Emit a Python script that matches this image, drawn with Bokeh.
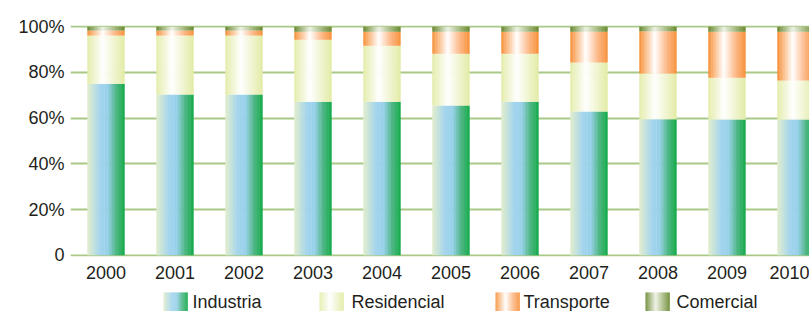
from bokeh.plotting import figure
from bokeh.models import ColumnDataSource, FixedTicker, Range1d
from bokeh.layouts import column
from bokeh.embed import file_html
from bokeh.resources import INLINE
from bokeh.core.properties import value

# ---------------- data ----------------
years = [2000, 2001, 2002, 2003, 2004, 2005, 2006, 2007, 2008, 2009, 2010]
series_names = ["Industria", "Residencial", "Transporte", "Comercial"]
industria = [75.0, 70.3, 70.3, 67.2, 67.2, 65.5, 67.2, 62.9, 59.5, 59.4, 59.4]
residencial = [21.1, 25.8, 25.8, 27.1, 24.5, 22.7, 21.0, 21.4, 20.0, 18.3, 17.0]
transporte = [2.2, 2.2, 2.2, 3.5, 6.1, 9.6, 9.6, 13.5, 18.5, 20.1, 21.4]
comercial = [1.7, 1.7, 1.7, 2.2, 2.2, 2.2, 2.2, 2.2, 2.0, 2.2, 2.2]
y_ticks = [0, 20, 40, 60, 80, 100]
y_tick_labels = ["0", "20%", "40%", "60%", "80%", "100%"]

# ---------------- style ----------------
FONT = "Liberation Sans"
FONT_SIZE = "18px"
TEXT_COLOR = "#231f20"
GRID_COLOR = "#a9c986"
BAR_W = 0.536
N_STRIPS = 24
GRADS = {
    "Industria": [(0.0, "#e3edcc"), (0.35, "#a2d4ee"), (0.55, "#98d1ea"), (0.78, "#4fb785"), (1.0, "#15ab4a")],
    "Residencial": [(0.0, "#e4ecaa"), (0.42, "#ffffff"), (1.0, "#e3eba6")],
    "Transporte": [(0.0, "#f7903a"), (0.42, "#ffffff"), (0.7, "#fdc095"), (1.0, "#f7923c")],
    "Comercial": [(0.0, "#68872f"), (0.42, "#eef2e4"), (1.0, "#6b8a30")],
}


def hex2rgb(h):
    h = h.lstrip("#")
    return [int(h[i:i + 2], 16) for i in (0, 2, 4)]


def grad_color(stops, t):
    for (t0, c0), (t1, c1) in zip(stops[:-1], stops[1:]):
        if t0 <= t <= t1:
            f = (t - t0) / (t1 - t0) if t1 > t0 else 0
            a, b = hex2rgb(c0), hex2rgb(c1)
            return "#%02x%02x%02x" % tuple(int(round(a[k] + (b[k] - a[k]) * f)) for k in range(3))
    return stops[-1][1]


# ---------------- main chart ----------------
W = 809
LEFT = 70
MAIN_H = 288
LEG_H = 23
p = figure(width=W, height=MAIN_H, x_range=Range1d(1999.4855, 2010.196), y_range=Range1d(-0.5, 100.5),
           output_backend="svg", toolbar_location=None,
           min_border_left=LEFT, min_border_right=0, min_border_top=25, min_border_bottom=32)
p.outline_line_color = None
p.background_fill_color = "white"
p.border_fill_color = "white"

values = {"Industria": industria, "Residencial": residencial, "Transporte": transporte, "Comercial": comercial}
bottoms = [0.0] * len(years)
for name in series_names:
    vals = values[name]
    tops = [b + v for b, v in zip(bottoms, vals)]
    xs, ts, bs, cs = [], [], [], []
    for j in range(N_STRIPS):
        t = (j + 0.5) / N_STRIPS
        off = -BAR_W / 2 + t * BAR_W
        col = grad_color(GRADS[name], t)
        for i, yr in enumerate(years):
            xs.append(yr + off)
            ts.append(tops[i])
            bs.append(bottoms[i])
            cs.append(col)
    src = ColumnDataSource(dict(x=xs, top=ts, bottom=bs, color=cs))
    p.vbar(x="x", top="top", bottom="bottom", width=BAR_W / N_STRIPS * 1.3, fill_color="color",
           line_color=None, source=src)
    bottoms = tops

p.xgrid.grid_line_color = None
p.ygrid.ticker = FixedTicker(ticks=y_ticks)
p.ygrid.grid_line_color = GRID_COLOR
p.ygrid.grid_line_width = 2

p.yaxis.ticker = FixedTicker(ticks=y_ticks)
p.yaxis.major_label_overrides = {t: l for t, l in zip(y_ticks, y_tick_labels)}
p.xaxis.ticker = FixedTicker(ticks=years)
p.xaxis.major_label_overrides = {y: str(y) for y in years}
for ax in (p.xaxis, p.yaxis):
    ax.axis_line_color = None
    ax.major_tick_line_color = None
    ax.minor_tick_line_color = None
    ax.major_tick_out = 0
    ax.major_tick_in = 0
    ax.minor_tick_out = 0
    ax.major_label_text_font = FONT
    ax.major_label_text_font_size = FONT_SIZE
    ax.major_label_text_color = TEXT_COLOR
p.yaxis.major_label_standoff = 6
p.xaxis.major_label_standoff = 9

# ---------------- legend strip ----------------
lf = figure(width=W, height=LEG_H, x_range=Range1d(LEFT, W), y_range=Range1d(0, LEG_H),
            output_backend="svg", toolbar_location=None,
            min_border_left=LEFT, min_border_right=0, min_border_top=0, min_border_bottom=0)
lf.axis.visible = False
lf.grid.visible = False
lf.outline_line_color = None

sw_left = [163, 319, 495, 645]
txt_x = [192, 351, 523, 676]
SW_W = 24
SW_TOP = 19
ls, rs, lc = [], [], []
for k, name in enumerate(series_names):
    for j in range(N_STRIPS):
        t = (j + 0.5) / N_STRIPS
        ls.append(sw_left[k] + SW_W * j / N_STRIPS)
        rs.append(sw_left[k] + SW_W * (j + 1) / N_STRIPS + 0.3)
        lc.append(grad_color(GRADS[name], t))
lf.quad(left=ls, right=rs, bottom=0, top=SW_TOP, fill_color=lc, line_color=None)
lf.text(x=txt_x, y=[10] * 4, text=series_names, text_font=value(FONT), text_font_size=FONT_SIZE,
        text_baseline="middle", text_color=TEXT_COLOR)

layout = column(p, lf, spacing=0)
open("out.html", "w").write(file_html(layout, INLINE))
